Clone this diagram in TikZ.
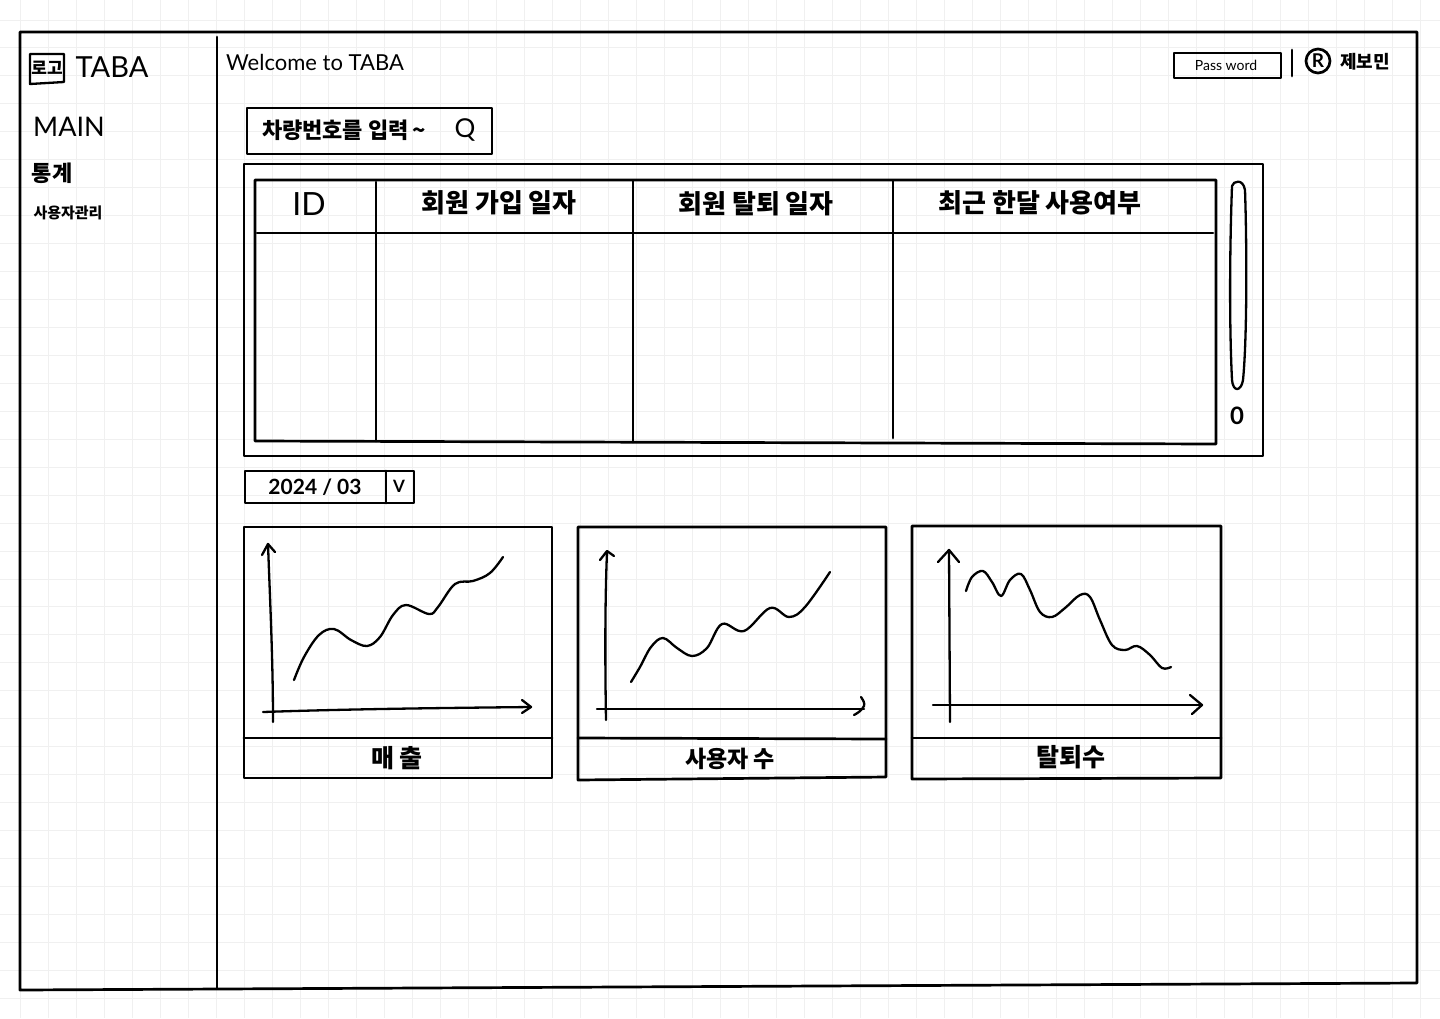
\documentclass[tikz,border=0pt]{standalone}
\usepackage{fontspec}
\setmainfont{Noto Sans CJK KR}
\newfontfamily\latinfont{Lato}
\newcommand{\fs}[1]{\fontsize{#1}{#1}\selectfont}
\definecolor{gridc}{HTML}{F0F0F0}
\tikzset{
  ink/.style={draw=black,line width=2.7pt,line cap=round,line join=round},
  thinink/.style={draw=black,line width=2.3pt,line cap=round,line join=round},
  curve/.style={thinink,smooth,tension=0.6},
  txt/.style={inner sep=0pt,outer sep=0pt,text=black},
  kor/.style={txt,font=\fs{#1}},
  korb/.style={txt,font=\bfseries\fs{#1}},
  lat/.style={txt,font=\latinfont\fs{#1}},
  latb/.style={txt,font=\latinfont\bfseries\fs{#1}}
}
\begin{document}
\begin{tikzpicture}[x=1pt,y=-1pt]
\useasboundingbox (0,0) rectangle (1440,1018);
\fill[white] (0,0) rectangle (1440,1018);
% grid
\foreach \k in {0,...,51}{\draw[gridc,line width=1pt] ({20+28*\k},0) -- ({20+28*\k},1018);}
\foreach \k in {0,...,36}{\draw[gridc,line width=1pt] (0,{20+27.95*\k}) -- (1440,{20+27.95*\k});}
% frame
\draw[ink] (20,32) -- (1417,32) -- (1417,983) -- (20,990) -- cycle;
\draw[ink] (217,37) -- (217,988);
% sidebar
\draw[thinink] (30,54) -- (64,54) -- (64,82) -- (30,84) -- cycle;
\node[korb=17] (logo) at (47,68) {로고};
\node[lat=29] (taba) at (112,67) {TABA};
\node[lat=27] (main) at (69,127) {MAIN};
\node[korb=22] (stat) at (52,173) {통계};
\node[korb=15] (users) at (68,213) {사용자관리};
\node[lat=22] (welcome) at (315,62) {Welcome to TABA};
% password
\draw[ink] (1174,53) rectangle (1281,78);
\node[lat=14] (pw) at (1226,65) {Pass word};
\draw[ink] (1292,50) -- (1292,76);
\draw[ink] (1318,61) circle (12);
\node[latb=19] (r) at (1318,61) {R};
\node[korb=18] (user) at (1365,62) {제보민};
% search
\draw[ink] (247,108) rectangle (492,154);
\node[korb=22,anchor=west] (search) at (262,130) {차량번호를 입력\,\textasciitilde};
\node[lat=26] (q) at (465,130) {Q};
% table
\draw[ink] (244,164) -- (1263,164) -- (1263,456) -- (244,456) -- cycle;
\draw[ink] (255,180) -- (1216,180) -- (1216,444) -- (255,441) -- cycle;
\draw[ink] (257,233) -- (1213,233);
\draw[ink] (376,182) -- (376,441);
\draw[ink] (633,181) -- (633,442);
\draw[ink] (893,181) -- (893,438);
\node[lat=32] (id) at (309,204) {ID};
\node[korb=26] (h1) at (499,203) {회원 가입 일자};
\node[korb=26] (h2) at (756,204) {회원 탈퇴 일자};
\node[korb=26] (h3) at (1040,203) {최근 한달 사용여부};
% scrollbar
\draw[thinink] (1232,186) .. controls (1233,181) and (1243,178) .. (1245,190)
  .. controls (1247,250) and (1247,340) .. (1243,380)
  .. controls (1241,392) and (1233,392) .. (1232,380)
  .. controls (1229,320) and (1230,240) .. (1232,186);
\node[latb=24] (zero) at (1237,416) {0};
% date
\draw[ink] (245,471) rectangle (414,503);
\draw[ink] (386,471) -- (386,503);
\node[latb=21] (date) at (315,487) {2024 / 03};
\node[latb=17] (v) at (399,486) {V};
% chart 1
\draw[ink] (244,527) rectangle (552,778);
\draw[ink] (244,738) -- (552,738);
\node[korb=25] (c1) at (397,758) {매 출};
\draw[thinink] (273,722) .. controls (273,660) and (270,600) .. (268,544);
\draw[thinink] (262,555) -- (268,544) -- (275,552);
\draw[thinink] (263,712) .. controls (350,709) and (440,708) .. (531,707);
\draw[thinink] (522,700) -- (531,707) -- (522,713);
\draw[curve] plot coordinates {(294,680) (304,657) (319,635) (334,629) (351,640) (367,646) (380,637) (393,615) (406,605) (429,614) (438,607) (455,584) (473,581) (490,573) (503,557)};
% chart 2
\draw[ink] (578,527) -- (886,527) -- (886,777) -- (578,780) -- cycle;
\draw[ink] (578,738) -- (886,739);
\node[korb=23] (c2) at (730,759) {사용자 수};
\draw[thinink] (606,720) .. controls (605,660) and (605,600) .. (607,552);
\draw[thinink] (600,560) -- (607,551) -- (614,556);
\draw[thinink] (597,709) -- (864,709);
\draw[thinink] (861,697) .. controls (863,700) and (865,703) .. (864,706) .. controls (862,710) and (858,713) .. (854,715);
\draw[curve] plot coordinates {(631,682) (640,667) (651,647) (663,638) (677,648) (692,656) (707,648) (722,624) (744,631) (770,608) (789,617) (805,607) (830,572)};
% chart 3
\draw[ink] (912,526) -- (1221,526) -- (1221,778) -- (912,779) -- cycle;
\draw[ink] (912,738) -- (1221,738);
\node[korb=25] (c3) at (1071,757) {탈퇴수};
\draw[thinink] (950,722) -- (949,550);
\draw[thinink] (938,562) -- (949,550) -- (959,562);
\draw[thinink] (933,705) -- (1202,705);
\draw[thinink] (1190,695) -- (1202,705) -- (1192,714);
\draw[curve] plot coordinates {(966,591) (972,577) (983,571) (992,582) (1001,596) (1010,580) (1021,574) (1030,590) (1040,612) (1052,617) (1065,608) (1080,595) (1090,597) (1100,620) (1112,645) (1125,650) (1137,646) (1150,655) (1162,668) (1171,667)};
\end{tikzpicture}
\end{document}
